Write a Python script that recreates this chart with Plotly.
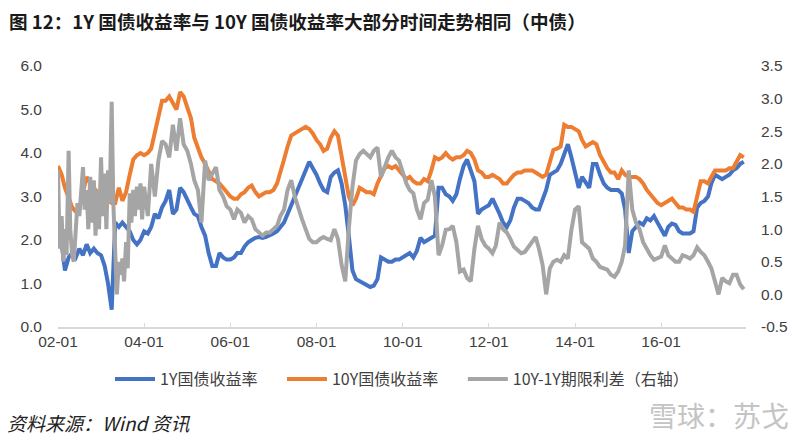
import pandas as pd
import plotly.graph_objects as go

# Monthly samples, 2002-01 .. 2017-12
dates = pd.date_range("2002-01-01", periods=192, freq="MS")

y1 = [  # 1Y 国债收益率 (left axis)
    2.3, 1.9, 1.3, 1.6, 1.7, 1.6, 1.8, 1.65, 1.9, 1.7, 1.8, 1.7,
    1.65, 1.4, 1.0, 0.4, 2.4, 2.3, 2.4, 2.3, 2.2, 2.0, 1.9, 2.0,
    2.2, 2.15, 2.3, 2.6, 2.5, 2.75, 2.9, 3.15, 2.6, 2.7, 3.2, 3.1,
    2.9, 2.75, 2.6, 2.55, 2.3, 2.1, 1.7, 1.4, 1.4, 1.7, 1.6, 1.55,
    1.55, 1.6, 1.7, 1.7, 1.85, 1.95, 2.0, 2.05, 2.07, 2.05, 2.07, 2.1,
    2.15, 2.2, 2.3, 2.4, 2.6, 2.8, 3.0, 3.2, 3.4, 3.6, 3.8, 3.65,
    3.5, 3.3, 3.15, 3.1, 3.45, 3.55, 3.6, 3.3, 2.8, 2.1, 1.3, 1.1,
    1.05, 1.0, 0.95, 0.92, 0.95, 1.1, 1.6, 1.55, 1.5, 1.5, 1.55, 1.55,
    1.6, 1.65, 1.7, 1.6, 1.75, 2.05, 1.95, 2.0, 2.05, 2.1, 3.2, 3.2,
    3.05, 3.0, 2.9, 3.05, 3.4, 3.7, 3.85, 3.6, 3.35, 2.6, 2.7, 2.75,
    2.8, 2.95, 2.8, 2.6, 2.4, 2.3, 2.45, 2.75, 2.95, 2.95, 2.9, 2.85,
    2.75, 2.7, 2.7, 2.9, 3.15, 3.5, 3.55, 3.6, 3.75, 4.0, 4.2, 3.9,
    3.5, 3.2, 3.45, 3.3, 3.2, 3.75, 3.75, 3.5, 3.3, 3.2, 3.15, 3.15,
    3.15, 3.07, 2.7, 1.7, 2.2, 2.3, 2.4, 2.35, 2.5, 2.45, 2.55, 2.4,
    2.25, 2.1, 2.3, 2.38, 2.35, 2.2, 2.15, 2.15, 2.15, 2.2, 2.75, 2.85,
    2.9, 3.0, 3.3, 3.5, 3.45, 3.4, 3.45, 3.5, 3.6, 3.65, 3.75, 3.8,
]

y10 = [  # 10Y 国债收益率 (left axis)
    3.7, 3.5, 3.2, 2.95, 2.75, 2.65, 2.7, 3.1, 3.45, 3.3, 3.2, 3.1,
    3.0, 2.95, 2.9, 2.85, 2.85, 3.2, 2.9, 3.1, 3.5, 3.85, 3.95, 4.0,
    3.95, 4.0, 4.1, 4.5, 4.9, 5.2, 5.2, 5.3, 5.15, 5.0, 5.4, 5.3,
    5.05, 4.8, 4.35, 4.1, 3.9, 3.75, 3.55, 3.4, 3.35, 3.3, 3.2, 3.1,
    3.0, 2.95, 2.95, 3.05, 3.1, 3.2, 3.25, 3.1, 3.0, 3.05, 3.1, 3.1,
    3.15, 3.3, 3.6, 3.85, 4.15, 4.4, 4.45, 4.5, 4.55, 4.6, 4.55, 4.45,
    4.3, 4.2, 4.05, 4.1, 4.35, 4.5, 4.4, 3.9, 3.35, 3.0, 2.8, 2.95,
    3.2, 3.15, 3.1, 3.1, 3.05, 3.3, 3.45, 3.65, 3.7, 3.65, 3.7, 3.6,
    3.5, 3.4, 3.45, 3.35, 3.3, 3.3, 3.4, 3.35, 3.6, 3.9, 3.85, 3.9,
    4.0, 3.9, 3.85, 3.9, 3.9, 3.95, 4.05, 4.0, 3.85, 3.6, 3.55, 3.45,
    3.45, 3.5, 3.45, 3.4, 3.3, 3.3, 3.4, 3.5, 3.55, 3.55, 3.6, 3.6,
    3.6, 3.55, 3.5, 3.45, 3.5, 3.8, 4.07, 4.1, 4.15, 4.65, 4.6, 4.6,
    4.55, 4.5, 4.3, 4.15, 4.2, 4.25, 4.2, 3.95, 3.8, 3.65, 3.55, 3.55,
    3.4, 3.6, 3.5, 3.45, 3.45, 3.45, 3.4, 3.3, 3.15, 3.05, 2.95, 2.85,
    2.8, 2.85, 2.9, 2.95, 2.85, 2.75, 2.75, 2.7, 2.7, 2.65, 3.0, 3.35,
    3.35, 3.3, 3.45, 3.6, 3.6, 3.6, 3.6, 3.65, 3.65, 3.8, 3.95, 3.9,
]

# 10Y-1Y spread: half-monthly in the very volatile 2002-2003 stretch, monthly after
spread_dates = list(pd.date_range("2002-01-01", "2003-12-31", freq="SMS")) + \
               list(pd.date_range("2004-01-01", periods=168, freq="MS"))
spread = [  # 10Y-1Y 期限利差 (right axis)
    1.9, 0.7, 1.2, 0.5, 1.0, 0.6, 2.2, 1.0, 0.6, 0.5, 1.0, 1.4,
    1.2, 1.5, 1.95, 1.3, 1.6, 1.0, 1.8, 1.1, 1.75, 0.9, 1.6, 1.0,
    2.1, 1.2, 1.85, 1.0, 1.9, 1.4, 2.95, 1.4, 0.6, 0.0, 0.5, 0.3,
    0.55, 0.2, 0.8, 0.4, 1.55, 1.1, 1.6, 1.2, 1.65, 1.3, 1.7, 1.15,
    1.65, 1.2, 2.0, 1.5, 2.05, 2.35, 2.3, 2.1, 2.6, 2.2, 2.7, 2.3,
    2.2, 2.0, 1.75, 1.6, 1.1, 2.05, 1.75, 1.85, 1.95, 1.6, 1.5, 1.35,
    1.3, 1.15, 1.3, 1.25, 1.1, 1.2, 1.15, 1.0, 0.94, 0.9, 0.95, 0.95,
    1.0, 1.05, 1.2, 1.3, 1.6, 1.75, 1.5, 1.3, 1.15, 1.0, 0.85, 0.8,
    0.8, 0.85, 0.88, 0.85, 0.83, 1.0, 0.85, 0.45, 0.2, 1.0, 1.65, 2.05,
    2.15, 2.2, 2.15, 2.1, 2.2, 2.25, 1.8, 1.95, 2.1, 2.2, 2.1, 2.05,
    1.85, 1.7, 1.6, 1.55, 1.3, 1.15, 1.4, 1.45, 1.75, 1.5, 0.6, 0.75,
    0.99, 1.0, 1.05, 0.8, 0.35, 0.38, 0.25, 0.2, 0.7, 1.05, 0.85, 0.75,
    0.7, 0.63, 0.75, 1.1, 1.0, 0.95, 0.85, 0.73, 0.68, 0.63, 0.65, 0.73,
    0.8, 0.88, 0.7, 0.45, 0.0, 0.4, 0.5, 0.53, 0.5, 0.6, 0.55, 0.99,
    1.3, 1.35, 0.8, 0.75, 0.7, 0.55, 0.5, 0.42, 0.4, 0.38, 0.3, 0.27,
    0.35, 0.5, 0.75, 1.9, 1.3, 1.1, 1.0, 0.8, 0.7, 0.6, 0.53, 0.55,
    0.58, 0.75, 0.6, 0.55, 0.5, 0.5, 0.6, 0.58, 0.55, 0.6, 0.72, 0.65,
    0.6, 0.5, 0.4, 0.2, 0.0, 0.25, 0.2, 0.17, 0.3, 0.3, 0.15, 0.08,
]

names = ["1Y国债收益率", "10Y国债收益率", "10Y-1Y期限利差（右轴）"]
colors = ["#4472C4", "#ED7D31", "#A5A5A5"]
legend_pad = "\u2003\u00a0"  # extra gap between legend entries, as in the reference

left_ticks = [0, 1, 2, 3, 4, 5, 6]
left_labels = ["0.0", "1.0", "2.0", "3.0", "4.0", "5.0", "6.0"]
right_ticks = [-0.5, 0, 0.5, 1, 1.5, 2, 2.5, 3, 3.5]
right_labels = ["-0.5", "0.0", "0.5", "1.0", "1.5", "2.0", "2.5", "3.0", "3.5"]

assert len(y1) == len(y10) == len(dates)
assert len(spread) == len(spread_dates)

fig = go.Figure()
fig.add_trace(go.Scatter(x=dates, y=y1, name=names[0] + legend_pad, mode="lines",
                         line=dict(color=colors[0], width=4)))
fig.add_trace(go.Scatter(x=dates, y=y10, name=names[1] + legend_pad, mode="lines",
                         line=dict(color=colors[1], width=4)))
fig.add_trace(go.Scatter(x=spread_dates, y=spread, name=names[2], mode="lines",
                         yaxis="y2", line=dict(color=colors[2], width=4)))

tick_font = dict(family="Liberation Sans, Arial, sans-serif", size=15.5, color="#404040")

# page is drawn with an 8px body margin, so the figure is 792x431
fig.update_layout(
    width=792, height=431,
    margin=dict(l=42, r=54, t=58, b=112),
    paper_bgcolor="white", plot_bgcolor="white",
    showlegend=True,
    legend=dict(orientation="h", x=0.5, xanchor="center", y=-0.2, yanchor="middle",
                font=dict(family="Noto Sans CJK SC, sans-serif", size=16, color="#404040"),
                itemwidth=40, tracegroupgap=0),
    xaxis=dict(type="date", range=["2002-01-01", "2017-12-20"],
               dtick="M24", tick0="2002-01-01", tickformat="%y-%m",
               showgrid=False, showline=True, linecolor="#D9D9D9", linewidth=1.5,
               ticks="inside", ticklen=4, tickcolor="#D9D9D9",
               tickfont=tick_font, zeroline=False),
    yaxis=dict(range=[0, 6], tickmode="array", tickvals=left_ticks, ticktext=left_labels,
               showgrid=False, zeroline=False, showline=False, tickfont=tick_font,
               ticklabelstandoff=15),
    yaxis2=dict(range=[-0.5, 3.5], tickmode="array", tickvals=right_ticks,
                ticktext=right_labels, overlaying="y",
                side="right", showgrid=False, zeroline=False, showline=False,
                tickfont=tick_font, ticklabelstandoff=14),
    font=dict(family="Noto Sans CJK SC, sans-serif"),
)

fig.add_annotation(text="<b>图 12：1Y 国债收益率与 10Y 国债收益率大部分时间走势相同（中债）</b>",
                   xref="paper", yref="paper", x=-52/696, y=1 + 45/261,
                   xanchor="left", yanchor="middle", showarrow=False,
                   font=dict(family="Noto Sans CJK SC, sans-serif", size=18.6, color="#1a1a1a"))
fig.add_annotation(text="<i>资料来源：Wind 资讯</i>",
                   xref="paper", yref="paper", x=-54/696, y=-95/261,
                   xanchor="left", yanchor="middle", showarrow=False,
                   font=dict(family="Noto Sans CJK SC, sans-serif", size=19, color="#222222"))
fig.add_annotation(text="雪球：苏戈",
                   xref="paper", yref="paper", x=742/696, y=-88/261,
                   xanchor="right", yanchor="middle", showarrow=False,
                   font=dict(family="Noto Sans CJK SC, sans-serif", size=28, color="#C4C4C4"))

fig.write_html("out.html")
